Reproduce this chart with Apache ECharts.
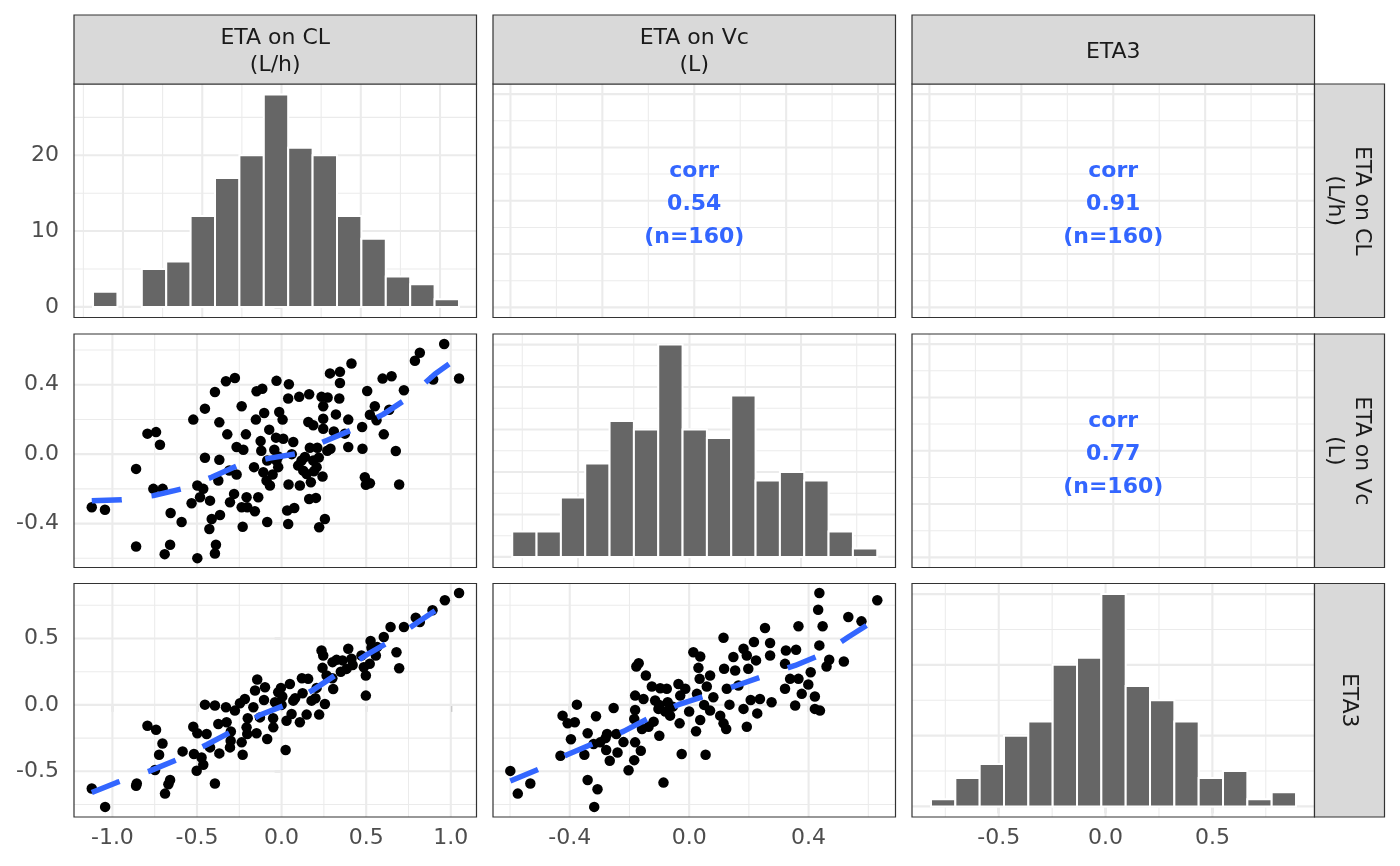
<!DOCTYPE html>
<html>
<head>
<meta charset="utf-8">
<script src="https://cdn.jsdelivr.net/npm/echarts@6/dist/echarts.min.js"></script>
<style>
html, body { margin: 0; background: #fff; }
#main { width: 1400px; height: 866px; }
</style>
</head>
<body>
<div id="main"></div>
<script>
// strip labels and correlations
var varNames = ['ETA on CL\n(L/h)', 'ETA on Vc\n(L)', 'ETA3'];
var corrCLVc = '0.54', corrCLE3 = '0.91', corrVcE3 = '0.77';
var nObs = 160;

// diagonal histograms: counts per bin, [first bin start, bin width]
var histCL = [2, 0, 5, 6, 12, 17, 20, 28, 21, 20, 12, 9, 4, 3, 1];
var histVc = [3, 3, 7, 11, 16, 15, 25, 15, 14, 19, 9, 10, 9, 3, 1];
var histE3 = [1, 4, 6, 10, 12, 20, 21, 30, 17, 15, 12, 4, 5, 1, 2];
var binsCL = [-1.189, 0.1539];
var binsVc = [-0.636, 0.0873];
var binsE3 = [-0.817, 0.1139];

// tick labels
var ticksCL = [-1, -0.5, 0, 0.5, 1];
var ticksVc = [-0.4, 0, 0.4];
var ticksE3 = [-0.5, 0, 0.5];
var ticksCount = [0, 10, 20];

// scatter points [x, y]
var ptsCLVc = [[-1.122,-0.306],[-1.044,-0.320],[-0.860,-0.085],[-0.860,-0.532],[-0.793,0.118],[-0.742,0.127],[-0.719,0.054],[-0.758,-0.200],[-0.703,-0.200],[-0.691,-0.576],[-0.659,-0.522],[-0.656,-0.339],[-0.591,-0.391],[-0.522,0.199],[-0.532,-0.283],[-0.498,-0.599],[-0.498,-0.181],[-0.453,0.262],[-0.453,-0.021],[-0.463,-0.200],[-0.482,-0.248],[-0.423,-0.268],[-0.394,0.358],[-0.368,0.183],[-0.368,-0.033],[-0.374,-0.152],[-0.413,-0.374],[-0.427,-0.431],[-0.364,-0.351],[-0.388,-0.522],[-0.394,-0.572],[-0.329,0.420],[-0.276,0.439],[-0.321,0.114],[-0.309,-0.094],[-0.281,-0.229],[-0.305,-0.277],[-0.266,-0.117],[-0.266,0.041],[-0.236,0.276],[-0.226,0.025],[-0.211,0.114],[-0.230,-0.418],[-0.236,-0.306],[-0.207,-0.248],[-0.203,-0.306],[-0.158,-0.329],[-0.138,-0.248],[-0.085,-0.391],[-0.163,-0.075],[-0.148,0.362],[-0.114,0.377],[-0.152,0.199],[-0.103,0.237],[-0.124,0.075],[-0.073,0.141],[-0.108,-0.104],[-0.089,-0.152],[-0.069,-0.181],[-0.085,-0.037],[-0.030,0.422],[-0.014,0.243],[0.006,0.199],[-0.033,0.095],[-0.043,0.025],[-0.020,-0.013],[-0.020,-0.075],[-0.053,-0.117],[0.010,0.089],[0.069,0.070],[0.033,-0.325],[0.075,-0.310],[0.039,-0.402],[0.043,0.403],[0.039,0.320],[0.104,0.330],[0.163,0.345],[0.041,-0.175],[0.108,-0.181],[0.098,-0.066],[0.138,-0.017],[0.148,-0.114],[0.158,0.185],[0.187,0.166],[0.167,0.037],[0.211,0.037],[0.191,-0.099],[0.207,-0.075],[0.242,-0.129],[0.173,-0.162],[0.163,-0.258],[0.203,-0.252],[0.222,-0.421],[0.256,-0.374],[0.236,0.330],[0.272,0.326],[0.246,0.276],[0.246,0.204],[0.246,0.146],[0.286,0.465],[0.345,0.474],[0.345,0.410],[0.341,0.320],[0.321,0.229],[0.394,0.199],[0.374,0.118],[0.309,0.131],[0.289,0.031],[0.394,0.041],[0.413,0.522],[0.476,0.156],[0.478,0.031],[0.506,0.364],[0.492,-0.133],[0.522,-0.168],[0.498,-0.177],[0.551,0.276],[0.522,0.227],[0.561,0.195],[0.604,0.114],[0.597,0.435],[0.650,0.449],[0.636,0.256],[0.723,0.368],[0.675,0.018],[0.695,-0.175],[0.788,0.538],[0.817,0.584],[0.896,0.430],[0.961,0.634],[1.049,0.436],[0.118,-0.037],[0.187,-0.037],[0.128,-0.095],[-0.030,-0.037],[0.060,0.000],[0.220,-0.020],[-0.120,0.020],[0.270,0.020]];
var ptsCLE3 = [[-1.122,-0.630],[-1.043,-0.768],[-0.856,-0.592],[-0.860,-0.609],[-0.793,-0.157],[-0.742,-0.187],[-0.704,-0.290],[-0.724,-0.375],[-0.748,-0.490],[-0.659,-0.566],[-0.669,-0.597],[-0.689,-0.668],[-0.585,-0.350],[-0.522,-0.164],[-0.498,-0.214],[-0.518,-0.370],[-0.473,-0.396],[-0.502,-0.496],[-0.463,-0.451],[-0.394,-0.592],[-0.453,0.002],[-0.394,-0.005],[-0.329,-0.018],[-0.443,-0.219],[-0.423,-0.320],[-0.368,-0.365],[-0.374,-0.144],[-0.325,-0.131],[-0.301,-0.270],[-0.305,-0.320],[-0.276,-0.043],[-0.246,0.012],[-0.230,-0.375],[-0.236,-0.282],[-0.217,0.045],[-0.207,-0.169],[-0.203,-0.219],[-0.167,-0.018],[-0.157,0.108],[-0.144,0.191],[-0.148,-0.214],[-0.128,-0.094],[-0.098,0.133],[-0.085,-0.257],[-0.104,0.037],[-0.049,-0.169],[-0.039,0.020],[-0.020,0.095],[-0.004,0.128],[0.004,0.063],[0.024,-0.340],[0.029,-0.119],[0.049,0.158],[0.059,-0.068],[0.069,0.032],[0.108,-0.131],[0.124,0.088],[0.148,-0.073],[0.157,0.196],[0.177,0.032],[0.207,0.128],[0.222,-0.073],[0.256,0.007],[0.236,0.410],[0.246,0.372],[0.242,0.279],[0.266,0.221],[0.305,0.120],[0.301,0.322],[0.325,0.339],[0.360,0.335],[0.394,0.423],[0.413,0.347],[0.384,0.271],[0.472,0.372],[0.486,0.284],[0.498,0.221],[0.498,0.070],[0.526,0.481],[0.531,0.430],[0.557,0.372],[0.565,0.435],[0.604,0.511],[0.644,0.586],[0.679,0.397],[0.695,0.276],[0.723,0.586],[0.793,0.657],[0.817,0.624],[0.892,0.712],[0.965,0.788],[1.049,0.843],[0.521,0.309],[0.000,0.000],[0.080,0.050],[-0.200,-0.100],[-0.050,-0.100],[0.200,0.050],[0.300,0.200],[0.350,0.250],[-0.300,-0.200],[0.120,0.200],[0.420,0.300]];
var ptsVcE3 = [[-0.599,-0.497],[-0.574,-0.668],[-0.532,-0.592],[-0.424,-0.081],[-0.407,-0.139],[-0.383,-0.131],[-0.376,0.002],[-0.431,-0.383],[-0.396,-0.258],[-0.351,-0.375],[-0.340,-0.214],[-0.340,-0.566],[-0.307,-0.635],[-0.318,-0.768],[-0.312,-0.086],[-0.320,-0.295],[-0.298,-0.282],[-0.275,-0.219],[-0.278,-0.340],[-0.266,-0.420],[-0.253,-0.023],[-0.244,-0.219],[-0.240,-0.358],[-0.203,-0.492],[-0.184,-0.416],[-0.181,-0.282],[-0.162,-0.345],[-0.177,0.289],[-0.169,0.314],[-0.145,0.221],[-0.181,0.070],[-0.153,0.045],[-0.181,-0.038],[-0.184,-0.106],[-0.158,-0.182],[-0.136,-0.164],[-0.125,0.138],[-0.097,0.126],[-0.075,0.121],[-0.114,0.033],[-0.103,-0.030],[-0.119,-0.126],[-0.100,-0.232],[-0.086,-0.585],[-0.072,0.020],[-0.064,-0.081],[-0.055,-0.013],[-0.036,0.158],[-0.030,0.070],[-0.032,-0.139],[-0.025,-0.370],[-0.013,0.121],[0.014,0.397],[0.037,0.364],[0.031,0.279],[0.035,0.196],[0.026,0.083],[0.023,-0.199],[0.037,-0.114],[0.055,-0.375],[0.070,0.221],[0.059,0.138],[0.070,-0.043],[0.081,0.058],[0.104,-0.081],[0.115,-0.139],[0.124,-0.182],[0.117,0.272],[0.115,0.506],[0.126,0.121],[0.135,0.002],[0.148,0.360],[0.154,0.259],[0.165,0.146],[0.182,0.423],[0.193,0.372],[0.217,0.473],[0.224,0.335],[0.198,0.272],[0.182,-0.030],[0.193,-0.164],[0.206,0.037],[0.228,-0.064],[0.237,0.045],[0.254,0.579],[0.271,0.466],[0.271,0.372],[0.276,0.020],[0.324,0.410],[0.358,0.415],[0.321,0.309],[0.338,0.196],[0.366,0.196],[0.321,0.121],[0.355,-0.005],[0.377,0.083],[0.399,0.153],[0.407,0.246],[0.366,0.592],[0.436,0.843],[0.432,0.717],[0.447,0.592],[0.436,0.448],[0.421,0.063],[0.421,-0.030],[0.438,-0.043],[0.469,0.340],[0.460,0.289],[0.518,0.327],[0.533,0.662],[0.577,0.629],[0.630,0.788],[-0.100,0.000],[-0.080,-0.050],[-0.280,-0.250],[-0.220,-0.280],[0.000,-0.050],[0.050,0.000]];

// smooth (loess) curves
var fitCLVc = [[-1.122,-0.268],[-0.945,-0.263],[-0.758,-0.239],[-0.591,-0.200],[-0.414,-0.133],[-0.256,-0.065],[-0.069,-0.023],[0.089,0.002],[0.266,0.079],[0.433,0.147],[0.600,0.229],[0.748,0.324],[0.905,0.460],[1.049,0.560]];
var fitCLE3 = [[-1.122,-0.660],[-0.974,-0.584],[-0.778,-0.497],[-0.620,-0.413],[-0.443,-0.300],[-0.296,-0.201],[-0.128,-0.076],[0.029,0.002],[0.187,0.113],[0.344,0.246],[0.502,0.377],[0.650,0.486],[0.807,0.624],[0.955,0.750],[1.049,0.820]];
var fitVcE3 = [[-0.599,-0.573],[-0.504,-0.484],[-0.409,-0.375],[-0.320,-0.290],[-0.220,-0.199],[-0.130,-0.094],[-0.036,0.002],[0.059,0.070],[0.159,0.146],[0.254,0.221],[0.355,0.297],[0.449,0.385],[0.533,0.511],[0.630,0.650]];

// grid breaks
var brkCL = { major: [-1, -0.5, 0, 0.5, 1], minor: [-1.25, -0.75, -0.25, 0.25, 0.75, 1.25] };
var brkVc = { major: [-0.4, 0, 0.4], minor: [-0.6, -0.2, 0.2, 0.6] };
var brkE3 = { major: [-0.5, 0, 0.5], minor: [-0.75, -0.25, 0.25, 0.75] };
var brkCorr = { major: [-1, -0.5, 0, 0.5, 1], minor: [-0.75, -0.25, 0.25, 0.75] };
var brkCnt10 = { major: [0, 10, 20, 30], minor: [5, 15, 25] };
var brkCnt5 = { major: [0, 5, 10, 15, 20, 25], minor: [2.5, 7.5, 12.5, 17.5, 22.5] };

// layout
var colLeft = [74, 493, 912], rowTop = [84, 334, 583.5];
var PW = 402.5, PH = 233.5;
var FONT = 'DejaVu Sans';
var smoothBlue = '#3366FF';

// panel specs: x range, y range, breaks, labels
var panels = [
  { x: [-1.309, 1.230], y: [-1.4, 29.4], bx: brkCL, by: brkCnt10, ly: ticksCount },
  { x: [-1.095, 1.095], y: [-1.095, 1.095], bx: brkCorr, by: brkCorr, corr: corrCLVc },
  { x: [-1.095, 1.095], y: [-1.095, 1.095], bx: brkCorr, by: brkCorr, corr: corrCLE3 },
  { x: [-1.227, 1.152], y: [-0.653, 0.692], bx: brkCL, by: brkVc, ly: ticksVc },
  { x: [-0.705, 0.739], y: [-1.25, 26.25], bx: brkVc, by: brkCnt5 },
  { x: [-1.095, 1.095], y: [-1.095, 1.095], bx: brkCorr, by: brkCorr, corr: corrVcE3 },
  { x: [-1.227, 1.152], y: [-0.844, 0.914], bx: brkCL, by: brkE3, lx: ticksCL, ly: ticksE3 },
  { x: [-0.657, 0.691], y: [-0.844, 0.914], bx: brkVc, by: brkE3, lx: ticksVc },
  { x: [-0.906, 0.978], y: [-1.5, 31.5], bx: brkE3, by: brkCnt10, lx: ticksE3 }
];

function fmt1(v) { return (+v).toFixed(1); }
function fmt0(v) { return String(Math.round(v)); }

function makeAxis(gi, range, labels, isY, formatter) {
  var show = !!labels;
  return {
    type: 'value', gridIndex: gi, min: range[0], max: range[1],
    splitLine: { show: false }, axisLine: { show: false },
    axisTick: { show: show, length: 7, customValues: labels || [], lineStyle: { color: '#333333', width: 1.2 } },
    axisLabel: {
      show: show, customValues: labels || [], formatter: formatter,
      margin: isY ? 15 : 10, fontSize: 22, fontFamily: FONT, color: '#4D4D4D'
    }
  };
}

function gridData(brk, range) {
  var out = [];
  brk.minor.forEach(function (v) { if (v > range[0] && v < range[1]) out.push([v, 0]); });
  brk.major.forEach(function (v) { if (v > range[0] && v < range[1]) out.push([v, 1]); });
  return out;
}

function gridLines(gi, data, vertical) {
  return {
    type: 'custom', xAxisIndex: gi, yAxisIndex: gi, z: 1, silent: true, data: data,
    renderItem: function (params, api) {
      var cs = params.coordSys;
      var w = api.value(1) ? 2.1 : 1.05;
      if (vertical) {
        var x = api.coord([api.value(0), 0])[0];
        return { type: 'line', shape: { x1: x, y1: cs.y, x2: x, y2: cs.y + cs.height }, style: { stroke: '#EBEBEB', lineWidth: w } };
      }
      var y = api.coord([0, api.value(0)])[1];
      return { type: 'line', shape: { x1: cs.x, y1: y, x2: cs.x + cs.width, y2: y }, style: { stroke: '#EBEBEB', lineWidth: w } };
    }
  };
}

function histSeries(gi, counts, bins) {
  var data = counts.map(function (c, i) { return [bins[0] + i * bins[1], c]; });
  return {
    type: 'custom', xAxisIndex: gi, yAxisIndex: gi, z: 2, data: data,
    renderItem: function (params, api) {
      var x0 = api.value(0), c = api.value(1);
      if (!c) return null;
      var p0 = api.coord([x0, 0]);
      var p1 = api.coord([x0 + bins[1], c]);
      return {
        type: 'rect',
        shape: { x: p0[0], y: p1[1], width: p1[0] - p0[0], height: p0[1] - p1[1] },
        style: { fill: '#666666', stroke: '#FFFFFF', lineWidth: 2 }
      };
    }
  };
}

function scatterSeries(gi, pts) {
  return { type: 'scatter', xAxisIndex: gi, yAxisIndex: gi, z: 3, data: pts, symbolSize: 10.5, itemStyle: { color: '#000000', opacity: 1 } };
}

function fitSeries(gi, pts) {
  return {
    type: 'line', xAxisIndex: gi, yAxisIndex: gi, z: 4, data: pts, showSymbol: false, symbol: 'none',
    lineStyle: { color: smoothBlue, width: 5.5, type: [30, 30], cap: 'butt' }
  };
}

function corrSeries(gi, value) {
  return {
    type: 'custom', xAxisIndex: gi, yAxisIndex: gi, z: 3, data: [[0, 0]],
    renderItem: function (params, api) {
      var p = api.coord([0, 0]);
      return {
        type: 'text', x: p[0], y: p[1] + 4,
        style: {
          text: 'corr\n' + value + '\n(n=' + nObs + ')',
          fill: smoothBlue, font: 'bold 22px "' + FONT + '"',
          align: 'center', verticalAlign: 'middle', textAlign: 'center', textVerticalAlign: 'middle',
          lineHeight: 33
        }
      };
    }
  };
}

var grids = [], xAxes = [], yAxes = [], series = [];
panels.forEach(function (p, gi) {
  var r = Math.floor(gi / 3), c = gi % 3;
  grids.push({ left: colLeft[c], top: rowTop[r], width: PW, height: PH, show: true, backgroundColor: '#FFFFFF', borderWidth: 0 });
  var yFmt = (gi === 0) ? fmt0 : fmt1;
  xAxes.push(makeAxis(gi, p.x, p.lx, false, fmt1));
  yAxes.push(makeAxis(gi, p.y, p.ly, true, yFmt));
  series.push(gridLines(gi, gridData(p.bx, p.x), true));
  series.push(gridLines(gi, gridData(p.by, p.y), false));
  if (p.corr) series.push(corrSeries(gi, p.corr));
});

series.push(histSeries(0, histCL, binsCL));
series.push(histSeries(4, histVc, binsVc));
series.push(histSeries(8, histE3, binsE3));
series.push(scatterSeries(3, ptsCLVc), fitSeries(3, fitCLVc));
series.push(scatterSeries(6, ptsCLE3), fitSeries(6, fitCLE3));
series.push(scatterSeries(7, ptsVcE3), fitSeries(7, fitVcE3));

// panel frames and strips
var graphics = [];
for (var r = 0; r < 3; r++) {
  for (var c = 0; c < 3; c++) {
    graphics.push({ type: 'rect', z: 10, silent: true,
      shape: { x: colLeft[c], y: rowTop[r], width: PW, height: PH },
      style: { fill: null, stroke: '#333333', lineWidth: 1.2 } });
  }
}
var stripStyle = { fill: '#D9D9D9', stroke: '#333333', lineWidth: 1.2 };
var stripText = function (txt) {
  return { text: txt, fill: '#1A1A1A', font: '22px "' + FONT + '"', align: 'center', verticalAlign: 'middle',
    textAlign: 'center', textVerticalAlign: 'middle', lineHeight: 27 };
};
varNames.forEach(function (name, i) {
  graphics.push({ type: 'rect', z: 10, silent: true, shape: { x: colLeft[i], y: 15, width: PW, height: 69 }, style: stripStyle });
  graphics.push({ type: 'text', z: 11, silent: true, x: colLeft[i] + PW / 2, y: 52, style: stripText(name) });
  var sx = colLeft[2] + PW;
  graphics.push({ type: 'rect', z: 10, silent: true, shape: { x: sx, y: rowTop[i], width: 70, height: PH }, style: stripStyle });
  graphics.push({ type: 'text', z: 11, silent: true, x: sx + 34, y: rowTop[i] + PH / 2, rotation: -Math.PI / 2, style: stripText(name) });
});

var chart = echarts.init(document.getElementById('main'), null, { renderer: 'canvas' });
chart.setOption({
  animation: false,
  backgroundColor: '#FFFFFF',
  grid: grids,
  xAxis: xAxes,
  yAxis: yAxes,
  series: series,
  graphic: graphics
});
</script>
</body>
</html>
